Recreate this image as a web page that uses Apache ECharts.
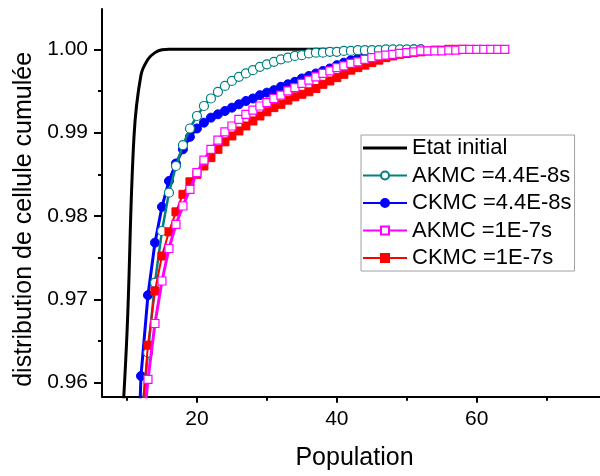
<!DOCTYPE html>
<html><head><meta charset="utf-8">
<script src="https://cdn.jsdelivr.net/npm/echarts@6/dist/echarts.min.js"></script>
<style>html,body{margin:0;padding:0;background:#fff}#c{width:600px;height:476px}</style>
</head><body><div id="c"></div>
<script>
const seriesNames = ['Etat initial', 'AKMC =4.4E-8s', 'CKMC =4.4E-8s', 'AKMC =1E-7s', 'CKMC =1E-7s'];
const xTitle = 'Population';
const yTitle = 'distribution de cellule cumulée';
const xMajorTicks = [20, 40, 60];
const xMinorTicks = [10, 30, 50, 70];
const yMajorTicks = [0.96, 0.97, 0.98, 0.99, 1.00];
const yMinorTicks = [0.965, 0.975, 0.985, 0.995];

const etatInitial = [[9,0.9507],[10,0.9659],[11,0.9895],[12,0.9969],[13,0.9988],[14,0.9996],[15,0.99995],[16,1.0],[42,1.0]];

const akmc44X = [12,13,14,15,16,17,18,19,20,21,22,23,24,25,26,27,28,29,30,31,32,33,34,35,36,37,38,39,40,41,42,43,44,45,46,47,48,49,50,51,52];
const akmc44Y = [0.9550,0.9636,0.9720,0.9782,0.9828,0.9860,0.9885,0.9905,0.9920,0.9932,0.9941,0.9949,0.9956,0.9962,0.9967,0.9971,0.9975,0.9979,0.9982,0.9985,0.9988,0.9990,0.9992,0.9993,0.9995,0.9996,0.9996,0.9997,0.9997,0.9998,0.9998,0.9999,0.9999,0.9999,0.9999,1.0,1.0,1.0,1.0,1.0,1.0];

const ckmc44X = [11,12,13,14,15,16,17,18,19,20,21,22,23,24,25,26,27,28,29,30,31,32,33,34,35,36,37,38,39,40,41,42,43,44,45,46,47,48,49,50,51,52];
const ckmc44Y = [0.9360,0.9608,0.9705,0.9768,0.9811,0.9842,0.9863,0.9880,0.9895,0.9905,0.9912,0.9918,0.9922,0.9926,0.9930,0.9934,0.9938,0.9941,0.9945,0.9948,0.9951,0.9955,0.9958,0.9961,0.9965,0.9968,0.9971,0.9974,0.9977,0.9981,0.9984,0.9987,0.9989,0.9991,0.9993,0.9995,0.9996,0.9997,0.9998,0.9999,1.0,1.0];

const akmc1X = [12,13,14,15,16,17,18,19,20,21,22,23,24,25,26,27,28,29,30,31,32,33,34,35,36,37,38,39,40,41,42,43,44,45,46,47,48,49,50,51,52,53,54,55,56,57,58,59,60,61,62,63,64];
const akmc1Y = [0.9516,0.9604,0.9671,0.9722,0.9761,0.9790,0.9812,0.9832,0.9852,0.9867,0.9880,0.9891,0.9901,0.9908,0.9916,0.9922,0.9927,0.9932,0.9936,0.9941,0.9945,0.9950,0.9954,0.9959,0.9963,0.9967,0.9971,0.9974,0.9978,0.9980,0.9983,0.9985,0.9988,0.9990,0.9992,0.9993,0.9994,0.9995,0.9996,0.9997,0.9998,0.9998,0.9998,0.9998,0.9999,0.9999,1.0,1.0,1.0,1.0,1.0,1.0,1.0];

const ckmc1X = [12,13,14,15,16,17,18,19,20,21,22,23,24,25,26,27,28,29,30,31,32,33,34,35,36,37,38,39,40,41,42,43,44,45,46,47,48,49,50,51,52,53,54,55,56,57,58];
const ckmc1Y = [0.9545,0.9645,0.9710,0.9752,0.9781,0.9805,0.9826,0.9841,0.9850,0.9860,0.9870,0.9880,0.9889,0.9896,0.9902,0.9908,0.9914,0.9920,0.9925,0.9930,0.9934,0.9939,0.9943,0.9946,0.9949,0.9953,0.9958,0.9962,0.9966,0.9970,0.9975,0.9978,0.9981,0.9984,0.9987,0.9990,0.9992,0.9994,0.9995,0.9996,0.9997,0.9998,0.9999,0.9999,1.0,1.0,1.0];

function pairs(xs, ys) { return xs.map((x, i) => [x, ys[i]]); }
function isMajor(v, list) { return list.some(t => Math.abs(t - v) < 1e-7); }

const FONT = 'Liberation Sans';
const X_MIN = 6.43, X_MAX = 77.61, Y_MIN = 0.95832, Y_MAX = 1.004835;

const chart = echarts.init(document.getElementById('c'), null, {renderer: 'canvas'});
const tickStyle = {color: '#000', width: 2};
chart.setOption({
  animation: false,
  backgroundColor: '#fff',
  grid: {left: 102, right: 0, top: 9, bottom: 79.3, containLabel: false},
  legend: {
    orient: 'vertical', left: 361, top: 135,
    padding: [2, 3, 2, 1], itemGap: 5.5, itemWidth: 44, itemHeight: 10,
    borderColor: '#a0a0a0', borderWidth: 1, backgroundColor: '#fff',
    textStyle: {fontFamily: FONT, fontSize: 22, color: '#000'},
    data: [
      {name: seriesNames[0], icon: 'path://M0,0 L44,0 L44,3 L0,3 Z'},
      seriesNames[1], seriesNames[2], seriesNames[3], seriesNames[4]
    ]
  },
  xAxis: [{
    type: 'value', min: X_MIN, max: X_MAX, position: 'bottom',
    axisLine: {lineStyle: {color: '#000', width: 2}},
    axisTick: {customValues: xMajorTicks, length: 6, lineStyle: tickStyle},
    axisLabel: {show: true, showMinLabel: false, showMaxLabel: false,
      fontFamily: FONT, fontSize: 21, color: '#000', margin: 12,
      formatter: v => isMajor(v, xMajorTicks) ? String(Math.round(v)) : ''},
    splitLine: {show: false},
    name: xTitle, nameLocation: 'middle', nameGap: 49,
    nameTextStyle: {fontFamily: FONT, fontSize: 25, color: '#000', padding: [0, 0, 0, 7]}
  }, {
    type: 'value', min: X_MIN, max: X_MAX, position: 'bottom',
    axisLine: {show: false},
    axisTick: {customValues: xMinorTicks, length: 4, lineStyle: tickStyle},
    axisLabel: {show: false}, splitLine: {show: false}
  }],
  yAxis: [{
    type: 'value', min: Y_MIN, max: Y_MAX, position: 'left',
    axisLine: {show: true, lineStyle: {color: '#000', width: 2}},
    axisTick: {show: true, customValues: yMajorTicks, length: 8, lineStyle: tickStyle},
    axisLabel: {show: true, showMinLabel: false, showMaxLabel: false,
      fontFamily: FONT, fontSize: 21, color: '#000', margin: 14,
      formatter: v => isMajor(v, yMajorTicks) ? v.toFixed(2) : ''},
    splitLine: {show: false},
    name: yTitle, nameLocation: 'middle', nameRotate: 90, nameGap: 63,
    nameTextStyle: {fontFamily: FONT, fontSize: 25, color: '#000', padding: [0, 33, 0, 0]}
  }, {
    type: 'value', min: Y_MIN, max: Y_MAX, position: 'left',
    axisLine: {show: false},
    axisTick: {show: true, customValues: yMinorTicks, length: 4, lineStyle: tickStyle},
    axisLabel: {show: false}, splitLine: {show: false}
  }],
  series: [
    {name: seriesNames[0], type: 'line', data: etatInitial, smooth: 0.4, symbol: 'none', showSymbol: false, z: 1,
      lineStyle: {color: '#000', width: 3}, itemStyle: {color: '#000'}},
    {name: seriesNames[1], type: 'line', data: pairs(akmc44X, akmc44Y), symbol: 'circle', symbolSize: 9, z: 3,
      lineStyle: {color: '#008080', width: 2.5}, itemStyle: {color: '#fff', borderColor: '#008080', borderWidth: 1.2}},
    {name: seriesNames[2], type: 'line', data: pairs(ckmc44X, ckmc44Y), symbol: 'circle', symbolSize: 9, z: 2,
      lineStyle: {color: '#0000ff', width: 3}, itemStyle: {color: '#0000ff', borderColor: '#0000ff', borderWidth: 1}},
    {name: seriesNames[3], type: 'line', data: pairs(akmc1X, akmc1Y), symbol: 'rect', symbolSize: 8, z: 5,
      lineStyle: {color: '#ff00ff', width: 3}, itemStyle: {color: '#fff', borderColor: '#ff00ff', borderWidth: 1.2}},
    {name: seriesNames[4], type: 'line', data: pairs(ckmc1X, ckmc1Y), symbol: 'rect', symbolSize: 8, z: 4,
      lineStyle: {color: '#ff0000', width: 2}, itemStyle: {color: '#ff0000', borderColor: '#ff0000', borderWidth: 1}}
  ]
});
</script>
</body></html>
